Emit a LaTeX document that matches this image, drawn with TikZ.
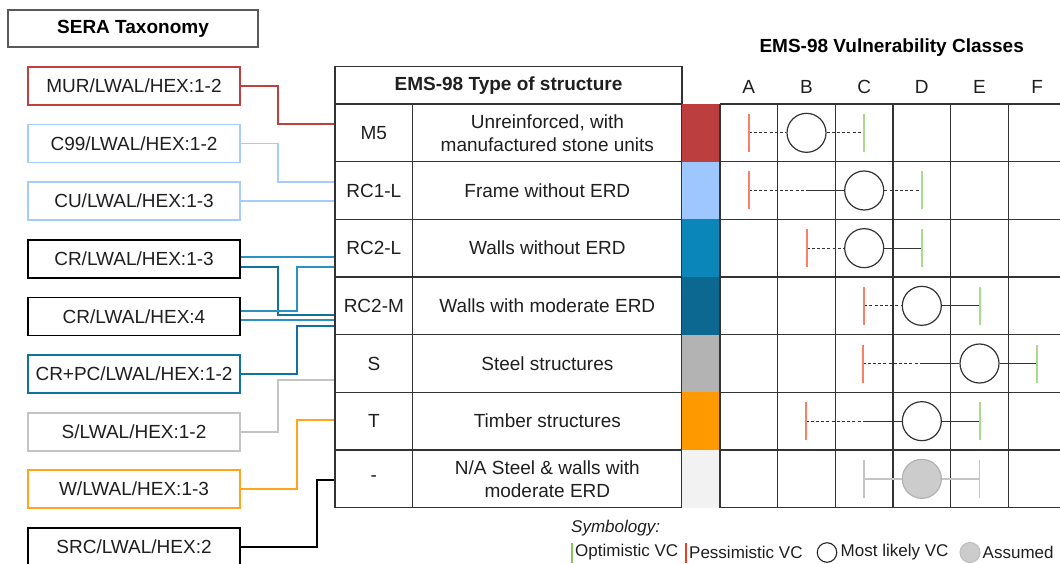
\documentclass[tikz,border=0pt]{standalone}
\usepackage{fontspec}
\setmainfont{Liberation Sans}
\usetikzlibrary{calc}
\definecolor{txt}{HTML}{1F1F1F}
\definecolor{gridc}{HTML}{333333}
\definecolor{cRed}{HTML}{C0403F}
\definecolor{cLb}{HTML}{A6CBFF}
\definecolor{cBl}{HTML}{2A92C2}
\definecolor{cDb}{HTML}{10739E}
\definecolor{cGr}{HTML}{C4C4C4}
\definecolor{cOr}{HTML}{FFA41C}
\definecolor{fM}{HTML}{BD3E3E}
\definecolor{fRa}{HTML}{9EC6FF}
\definecolor{fRb}{HTML}{0A86B9}
\definecolor{fRc}{HTML}{0C6890}
\definecolor{fS}{HTML}{B3B3B3}
\definecolor{fT}{HTML}{FF9900}
\definecolor{fN}{HTML}{F2F2F2}
\definecolor{pessc}{HTML}{FA7F66}
\definecolor{optc}{HTML}{A9DC8A}
\definecolor{lgG}{HTML}{82C95A}
\definecolor{lgR}{HTML}{E8401F}
\newcommand\dgfont{\fontsize{19}{23}\selectfont}
\newcommand\lgfont{\fontsize{17}{20}\selectfont}
\begin{document}
\begin{tikzpicture}[x=1pt,y=-1pt,
  lbox/.style={draw, line width=1.8pt, fill=white, minimum width=212pt, minimum height=38pt, inner sep=0pt, font=\dgfont, text=txt},
  cell/.style={draw=gridc, line width=1.3pt, minimum height=57.67pt, inner sep=0pt, font=\dgfont, text=txt, align=center},
  conn/.style={line width=1.8pt},
  ml/.style={circle, draw=gridc, line width=1.2pt, minimum size=39pt, inner sep=0pt, fill=white},
  dsh/.style={draw=gridc, line width=1.1pt, dash pattern=on 3pt off 2.2pt},
  sol/.style={draw=gridc, line width=1.1pt},
  pess/.style={draw=pessc, line width=2pt},
  opt/.style={draw=optc, line width=2pt},
  asm/.style={draw=cGr, line width=1.6pt},
  lg/.style={anchor=west, inner sep=0pt, font=\lgfont, text=txt}]
\useasboundingbox (0,0) rectangle (1060,564);
\fill[white] (0,0) rectangle (1060,564);

% SERA title box
\node[draw=black!65, line width=1.3pt, minimum width=250pt, minimum height=37pt, inner sep=0pt, font=\dgfont\bfseries, text=black] (sera) at (133,28.5) {SERA Taxonomy};

% left boxes
\node[lbox, draw=cRed] (mur) at (134,86) {MUR/LWAL/HEX:1-2};
\node[lbox, draw=cLb] (c99) at (134,143.6) {C99/LWAL/HEX:1-2};
\node[lbox, draw=cLb] (cu) at (134,201.2) {CU/LWAL/HEX:1-3};
\node[lbox, draw=black] (cr1) at (134,258.8) {CR/LWAL/HEX:1-3};
\node[lbox, draw=black] (cr4) at (134,316.4) {CR/LWAL/HEX:4};
\node[lbox, draw=cDb] (crpc) at (134,374) {CR+PC/LWAL/HEX:1-2};
\node[lbox, draw=cGr] (sl) at (134,431.6) {S/LWAL/HEX:1-2};
\node[lbox, draw=cOr] (wl) at (134,489.2) {W/LWAL/HEX:1-3};
\node[lbox, draw=black] (src) at (134,546.8) {SRC/LWAL/HEX:2};

% table
\node[cell, minimum width=347pt, minimum height=37.3pt, font=\dgfont\bfseries] (hdr) at (508.5,85.35) {EMS-98 Type of structure};
\node[cell, minimum width=77.7pt] (c1) at (373.85,132.83) {M5};
\node[cell, minimum width=269.3pt] (d1) at (547.35,132.83) {Unreinforced, with\\manufactured stone units};
\node[cell, minimum width=77.7pt] (c2) at (373.85,190.5) {RC1-L};
\node[cell, minimum width=269.3pt] (d2) at (547.35,190.5) {Frame without ERD};
\node[cell, minimum width=77.7pt] (c3) at (373.85,248.17) {RC2-L};
\node[cell, minimum width=269.3pt] (d3) at (547.35,248.17) {Walls without ERD};
\node[cell, minimum width=77.7pt] (c4) at (373.85,305.83) {RC2-M};
\node[cell, minimum width=269.3pt] (d4) at (547.35,305.83) {Walls with moderate ERD};
\node[cell, minimum width=77.7pt] (c5) at (373.85,363.5) {S};
\node[cell, minimum width=269.3pt] (d5) at (547.35,363.5) {Steel structures};
\node[cell, minimum width=77.7pt] (c6) at (373.85,421.17) {T};
\node[cell, minimum width=269.3pt] (d6) at (547.35,421.17) {Timber structures};
\node[cell, minimum width=77.7pt] (c7) at (373.85,478.83) {-};
\node[cell, minimum width=269.3pt] (d7) at (547.35,478.83) {N/A Steel \& walls with\\moderate ERD};

% colour column
\fill[fM] (682,104) rectangle (720,161.67);
\fill[fRa] (682,161.67) rectangle (720,219.33);
\fill[fRb] (682,219.33) rectangle (720,277);
\fill[fRc] (682,277) rectangle (720,334.67);
\fill[fS] (682,334.67) rectangle (720,392.33);
\fill[fT] (682,392.33) rectangle (720,450);
\fill[fN] (682,450) rectangle (720,507.67);

% vulnerability grid
\foreach \k in {0,...,7} \draw[gridc, line width=1.3pt] (720,{104+57.667*\k}) -- (1062,{104+57.667*\k});
\foreach \k in {0,...,6} \draw[gridc, line width=1.3pt] ({720+57.667*\k},104) -- ({720+57.667*\k},507.67);

\node[font=\dgfont\bfseries, text=black, inner sep=0pt] (vct) at (891.7,48) {EMS-98 Vulnerability Classes};
\node[font=\dgfont, text=txt, inner sep=0pt] (lA) at (748.8,86.5) {A};
\node[font=\dgfont, text=txt, inner sep=0pt] (lB) at (806.5,86.5) {B};
\node[font=\dgfont, text=txt, inner sep=0pt] (lC) at (864.2,86.5) {C};
\node[font=\dgfont, text=txt, inner sep=0pt] (lD) at (921.8,86.5) {D};
\node[font=\dgfont, text=txt, inner sep=0pt] (lE) at (979.5,86.5) {E};
\node[font=\dgfont, text=txt, inner sep=0pt] (lF) at (1037.2,86.5) {F};

% connectors
\draw[conn, cRed] (mur.east) -| (278,124) -- (c1.west |- 0,124);
\draw[conn, cLb] (c99.east) -| (278,182) -- (c2.west |- 0,182);
\draw[conn, cLb] (cu.east) -- (c2.west |- cu.east);
\draw[conn, cBl] (cr1.east |- 0,257.3) -- (c3.west |- 0,257.3);
\draw[conn, cDb] (cr1.east |- 0,266.7) -| (278,315.3) -- (c4.west |- 0,315.3);
\draw[conn, cBl] (cr4.east |- 0,311.3) -| (296.7,266.7) -- (c3.west |- 0,266.7);
\draw[conn, cBl] (cr4.east |- 0,320.3) -- (c4.west |- 0,320.3);
\draw[conn, cDb] (crpc.east) -| (296.7,325.7) -- (c4.west |- 0,325.7);
\draw[conn, cGr] (sl.east) -| (278,380) -- (c5.west |- 0,380);
\draw[conn, cOr] (wl.east) -| (297.3,420.3) -- (c6.west |- 0,420.3);
\draw[conn, black] (src.east) -| (316.7,480) -- (c7.west |- 0,480);

% markers
\coordinate (p1) at (748.8,132.83); \node[ml] (m1) at (806.5,132.83) {}; \coordinate (o1) at (864.2,132.83);
\draw[dsh] (p1) -- (m1.west); \draw[dsh] (m1.east) -- (o1);

\coordinate (p2) at (748.8,190.5); \coordinate (k2) at (806.5,190.5); \node[ml] (m2) at (864.2,190.5) {}; \coordinate (o2) at (921.8,190.5);
\draw[dsh] (p2) -- (k2); \draw[sol] (k2) -- (m2.west); \draw[dsh] (m2.east) -- (o2);

\coordinate (p3) at (806.5,248.17); \node[ml] (m3) at (864.2,248.17) {}; \coordinate (o3) at (921.8,248.17);
\draw[dsh] (p3) -- (m3.west); \draw[sol] (m3.east) -- (o3);

\coordinate (p4) at (864.2,305.83); \node[ml] (m4) at (921.8,305.83) {}; \coordinate (o4) at (979.5,305.83);
\draw[dsh] (p4) -- (m4.west); \draw[sol] (m4.east) -- (o4);

\coordinate (p5) at (862.5,363.5); \coordinate (k5) at (921.8,363.5); \node[ml] (m5) at (979.5,363.5) {}; \coordinate (o5) at (1037.2,363.5);
\draw[dsh] (p5) -- (k5); \draw[sol] (k5) -- (m5.west); \draw[sol] (m5.east) -- (o5);

\coordinate (p6) at (805.5,421.17); \coordinate (k6) at (864.2,421.17); \node[ml] (m6) at (921.8,421.17) {}; \coordinate (o6) at (979.5,421.17);
\draw[dsh] (p6) -- (k6); \draw[sol] (k6) -- (m6.west); \draw[sol] (m6.east) -- (o6);

\coordinate (a7) at (864.2,478.83); \node[circle, draw=black!30, fill=black!20, line width=1.2pt, minimum size=39pt, inner sep=0pt] (m7) at (921.8,478.83) {}; \coordinate (b7) at (979.5,478.83);
\draw[asm] (a7) -- (m7.west); \draw[asm] (m7.east) -- (b7);

\foreach \c in {p1,p2,p3,p4,p5,p6} \draw[pess] (\c) ++(0,-19) -- ++(0,38);
\foreach \c in {o1,o2,o3,o4,o5,o6} \draw[opt] (\c) ++(0,-19) -- ++(0,38);
\foreach \c in {a7,b7} \draw[asm] (\c) ++(0,-19) -- ++(0,38);

% legend
\node[lg, font=\lgfont\itshape] (sym) at (571,528) {Symbology:};
\coordinate (gb) at (572,552.5);
\draw[lgG, line width=2pt] (gb) ++(0,-10) -- ++(0,20);
\node[lg] (lopt) at (575,552) {Optimistic VC};
\coordinate (rb) at (685.7,552.5);
\draw[lgR, line width=2pt] (rb) ++(0,-10) -- ++(0,20);
\node[lg] (lpes) at (689,552) {Pessimistic VC};
\node[circle, draw=black!85, line width=1.1pt, minimum size=19.5pt, inner sep=0pt] (lcir) at (827,552.5) {};
\node[lg] (lml) at (840.5,552) {Most likely VC};
\node[circle, draw=black!25, fill=black!20, line width=1.1pt, minimum size=20pt, inner sep=0pt] (lasm) at (970,552.5) {};
\node[lg] (las) at (982.5,552) {Assumed};
\end{tikzpicture}
\end{document}
